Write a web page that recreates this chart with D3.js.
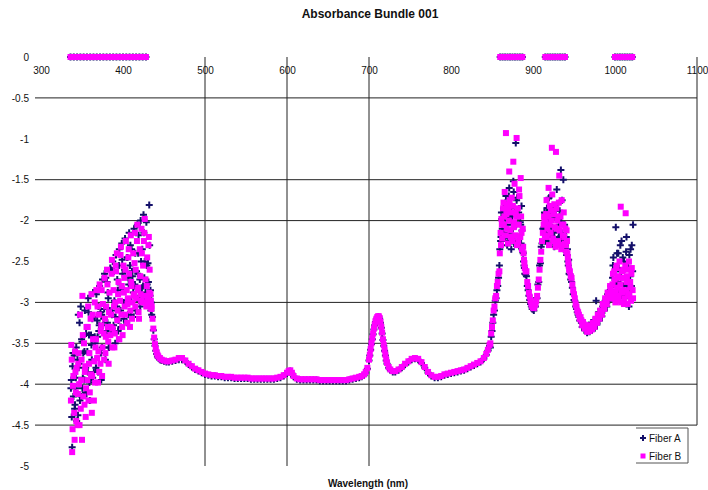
<!DOCTYPE html>
<html lang="en">
<head>
    <meta charset="UTF-8">
    <title>Absorbance Bundle 001</title>
    <script src="https://d3js.org/d3.v7.min.js"></script>
    <style>
        body { margin: 0; background: #fff; }
        text { font-family: "Liberation Sans", Arial, sans-serif; fill: #111; }
        .grid line { stroke: #222; stroke-width: 1; }
        .tick text { font-size: 10px; }
    </style>
</head>
<body>
    <div id="chart"></div>
    <script>
        // axis ticks
        var xTicks = [300, 400, 500, 600, 700, 800, 900, 1000, 1100];
        var yTicks = [0, -0.5, -1, -1.5, -2, -2.5, -3, -3.5, -4, -4.5, -5];
        var gridX = [500, 600, 700];
        var gridY = [-0.5, -1.5, -2, -3, -3.5, -4, -4.5];

        // UV part, noisy (wavelength in nm), first sweep
        var wlUV = [
            336, 337, 338, 339, 340, 341, 342, 343, 344, 345,
            346, 347, 348, 349, 350, 351, 352, 353, 354, 355,
            356, 357, 358, 359, 360, 361, 362, 363, 364, 365,
            366, 367, 368, 369, 370, 371, 372, 373, 374, 375,
            376, 377, 378, 379, 380, 381, 382, 383, 384, 385,
            386, 387, 388, 389, 390, 391, 392, 393, 394, 395,
            396, 397, 398, 399, 400, 401, 402, 403, 404, 405,
            406, 407, 408, 409, 410, 411, 412, 413, 414, 415,
            416, 417, 418, 419, 420, 421, 422, 423, 424, 425,
            426, 427, 428, 429, 430, 431, 432, 433, 434, 435
        ];
        var fiberA_UV = [
            0, -3.95, -4.77, -3.62, 0, -4.30, -4.05, -3.55, 0, -4.38,
            -3.80, -3.25, 0, -4.15, -3.48, -3.92, 0, -3.60, -4.10, -3.38,
            0, -3.85, -3.12, -3.98, 0, -3.40, -3.70, -3.92, 0, -3.18,
            -3.50, -3.80, 0, -3.42, -3.05, -3.28, 0, -3.62, -3.15, -2.72,
            0, -3.08, -3.38, -2.70, 0, -3.25, -2.95, -3.55, 0, -2.60,
            -3.10, -3.32, 0, -2.62, -3.00, -3.18, 0, -2.72, -3.35, -2.55,
            0, -3.10, -2.82, -2.48, 0, -3.20, -2.60, -3.00, 0, -2.45,
            -3.15, -2.78, 0, -2.30, -2.98, -2.62, 0, -3.18, -2.80, -2.40,
            0, -2.95, -2.65, -2.18, 0, -3.05, -2.50, -2.82, 0, -1.93,
            -2.70, -2.95, 0, -2.55, -3.00, -2.75, -1.81, -2.92, -3.10, -3.15
        ];
        var fiberB_UV = [
            0, -3.52, -4.83, -4.02, 0, -4.68, -3.85, -4.45, 0, -4.12,
            -3.62, -4.50, 0, -3.95, -4.68, -3.40, 0, -4.25, -3.78, -4.05,
            0, -3.30, -4.20, -3.62, 0, -3.88, -4.35, -3.15, 0, -3.72,
            -3.98, -3.45, 0, -3.05, -3.60, -3.85, 0, -3.35, -2.85, -3.55,
            0, -3.70, -3.20, -3.42, 0, -2.78, -3.48, -3.12, 0, -3.30,
            -2.65, -3.55, 0, -3.05, -3.38, -2.55, 0, -3.22, -2.90, -3.45,
            0, -2.42, -3.15, -3.30, 0, -2.88, -3.05, -2.60, 0, -3.25,
            -2.95, -2.35, 0, -3.10, -2.75, -3.20, 0, -2.90, -2.52, -3.05,
            0, -2.25, -2.85, -3.12, 0, -2.68, -2.98, -2.40, 0, -2.92,
            -2.15, -3.00, 0, -2.80, -2.95, -2.30, -2.88, -3.02, -2.98, -3.05
        ];

        // UV part, second sweep (half nm)
        var wlUV2 = [
            336.5, 337.5, 338.5, 339.5, 340.5, 341.5, 342.5, 343.5, 344.5, 345.5,
            346.5, 347.5, 348.5, 349.5, 350.5, 351.5, 352.5, 353.5, 354.5, 355.5,
            356.5, 357.5, 358.5, 359.5, 360.5, 361.5, 362.5, 363.5, 364.5, 365.5,
            366.5, 367.5, 368.5, 369.5, 370.5, 371.5, 372.5, 373.5, 374.5, 375.5,
            376.5, 377.5, 378.5, 379.5, 380.5, 381.5, 382.5, 383.5, 384.5, 385.5,
            386.5, 387.5, 388.5, 389.5, 390.5, 391.5, 392.5, 393.5, 394.5, 395.5,
            396.5, 397.5, 398.5, 399.5, 400.5, 401.5, 402.5, 403.5, 404.5, 405.5,
            406.5, 407.5, 408.5, 409.5, 410.5, 411.5, 412.5, 413.5, 414.5, 415.5,
            416.5, 417.5, 418.5, 419.5, 420.5, 421.5, 422.5, 423.5, 424.5, 425.5,
            426.5, 427.5, 428.5, 429.5, 430.5, 431.5, 432.5, 433.5, 434.5
        ];
        var fiberA_UV2 = [
            -4.05, -4.40, -3.78, -4.15, -3.65, -4.25, -3.92, -4.45, -3.70, -3.15,
            -3.75, -4.20, -3.05, -3.45, -4.05, -3.62, -3.95, -3.10, -3.80, -4.12,
            -3.60, -2.95, -3.40, -4.20, -3.95, -3.52, -3.20, -2.88, -3.85, -3.42,
            -3.70, -2.90, -3.22, -3.85, -3.35, -2.80, -3.12, -3.95, -3.55, -3.28,
            -3.20, -2.65, -3.70, -3.35, -2.75, -2.88, -3.55, -3.10, -2.58, -3.38,
            -3.15, -2.50, -3.28, -2.98, -3.50, -2.42, -3.05, -2.85, -3.22, -2.35,
            -2.78, -3.30, -2.28, -2.65, -3.00, -2.85, -2.22, -2.98, -3.25, -2.45,
            -2.70, -2.15, -2.55, -3.15, -2.35, -2.68, -2.88, -2.10, -2.78, -3.10,
            -2.62, -2.05, -2.40, -2.98, -2.72, -2.00, -2.90, -2.35, -2.80, -2.15,
            -2.50, -2.88, -2.02, -2.78, -2.52, -2.95, -2.30, -2.85, -3.00
        ];
        var fiberB_UV2 = [
            -4.20, -3.70, -4.55, -3.90, -4.35, -3.60, -4.10, -3.80, -4.50, -3.75,
            -4.00, -3.15, -4.30, -3.70, -2.92, -4.15, -3.50, -3.85, -4.40, -3.30,
            -3.95, -3.05, -3.75, -4.10, -3.20, -2.90, -3.90, -3.45, -4.20, -3.00,
            -3.55, -2.85, -3.68, -3.98, -3.15, -2.78, -3.75, -3.28, -3.90, -3.02,
            -3.38, -2.70, -3.62, -3.05, -2.60, -3.30, -3.75, -2.88, -3.40, -3.15,
            -2.48, -3.32, -2.85, -3.55, -3.00, -2.62, -2.40, -3.10, -2.75, -3.45,
            -2.98, -2.32, -2.80, -3.40, -2.55, -2.70, -3.15, -2.25, -2.85, -3.02,
            -2.45, -2.65, -3.30, -2.18, -2.80, -3.00, -2.40, -2.92, -2.15, -2.60,
            -2.95, -2.05, -2.82, -3.20, -2.35, -2.90, -2.10, -3.00, -2.55, -2.25,
            -1.98, -2.72, -3.05, -2.45, -2.92, -2.20, -2.60, -2.90, -3.08
        ];

        // visible baseline
        var wlVis = [
            436, 437, 438, 439, 440, 441, 442, 443, 445, 447,
            450, 453, 456, 460, 464, 468, 472, 476, 480, 484,
            488, 492, 496, 500, 504, 508, 512, 516, 520, 524,
            528, 532, 536, 540, 544, 548, 552, 556, 560, 564,
            568, 572, 576, 580, 584, 588, 592, 596, 600, 602,
            604, 606, 608, 612, 616, 620, 624, 628, 632, 636,
            640, 644, 648, 652, 656, 660, 664, 668, 672, 676,
            680, 684, 688, 691, 694, 696, 698, 700, 701, 702,
            703, 704, 705, 706, 707, 708, 709, 710, 711, 712,
            713, 714, 715, 716, 717, 718, 719, 720, 721, 722,
            724, 726, 729, 732, 736, 740, 744, 748, 752, 756,
            760, 764, 768, 772, 776, 780, 784, 788, 792, 796,
            800, 804, 808, 812, 816, 820, 824, 828, 832, 836,
            840, 843, 845, 847
        ];
        var fiberA_Vis = [
            -3.18, -3.34, -3.45, -3.53, -3.59, -3.63, -3.66, -3.68, -3.70, -3.71,
            -3.72, -3.73, -3.73, -3.72, -3.71, -3.70, -3.70, -3.72, -3.76, -3.79,
            -3.82, -3.84, -3.86, -3.88, -3.89, -3.90, -3.90, -3.91, -3.91, -3.92,
            -3.92, -3.92, -3.93, -3.93, -3.93, -3.93, -3.93, -3.94, -3.94, -3.94,
            -3.94, -3.94, -3.94, -3.94, -3.94, -3.93, -3.92, -3.90, -3.87, -3.85,
            -3.84, -3.87, -3.91, -3.94, -3.95, -3.95, -3.95, -3.95, -3.95, -3.95,
            -3.96, -3.96, -3.96, -3.96, -3.96, -3.96, -3.96, -3.96, -3.96, -3.95,
            -3.94, -3.93, -3.92, -3.91, -3.89, -3.86, -3.81, -3.71, -3.65, -3.58,
            -3.51, -3.45, -3.39, -3.33, -3.28, -3.24, -3.21, -3.19, -3.18, -3.18,
            -3.20, -3.25, -3.31, -3.38, -3.46, -3.53, -3.59, -3.65, -3.71, -3.75,
            -3.80, -3.83, -3.85, -3.85, -3.83, -3.80, -3.76, -3.73, -3.70, -3.69,
            -3.70, -3.74, -3.80, -3.86, -3.90, -3.92, -3.92, -3.91, -3.89, -3.88,
            -3.87, -3.86, -3.85, -3.84, -3.83, -3.81, -3.79, -3.77, -3.75, -3.73,
            -3.69, -3.64, -3.59, -3.53
        ];
        var fiberB_Vis = [
            -3.20, -3.32, -3.43, -3.51, -3.57, -3.61, -3.64, -3.66, -3.68, -3.70,
            -3.71, -3.72, -3.72, -3.71, -3.70, -3.68, -3.68, -3.71, -3.75, -3.78,
            -3.81, -3.83, -3.85, -3.87, -3.88, -3.89, -3.89, -3.90, -3.90, -3.91,
            -3.91, -3.91, -3.92, -3.92, -3.92, -3.92, -3.92, -3.93, -3.93, -3.93,
            -3.93, -3.93, -3.93, -3.93, -3.93, -3.92, -3.91, -3.89, -3.86, -3.84,
            -3.83, -3.86, -3.90, -3.93, -3.94, -3.94, -3.94, -3.94, -3.94, -3.94,
            -3.95, -3.95, -3.95, -3.95, -3.95, -3.95, -3.95, -3.95, -3.95, -3.94,
            -3.93, -3.92, -3.91, -3.90, -3.88, -3.85, -3.80, -3.70, -3.64, -3.57,
            -3.50, -3.44, -3.38, -3.32, -3.27, -3.23, -3.20, -3.18, -3.17, -3.17,
            -3.19, -3.24, -3.30, -3.37, -3.45, -3.52, -3.58, -3.64, -3.70, -3.74,
            -3.79, -3.82, -3.84, -3.84, -3.82, -3.79, -3.75, -3.72, -3.69, -3.68,
            -3.69, -3.73, -3.79, -3.85, -3.89, -3.91, -3.91, -3.90, -3.88, -3.87,
            -3.86, -3.85, -3.84, -3.83, -3.82, -3.80, -3.78, -3.76, -3.74, -3.72,
            -3.68, -3.63, -3.58, -3.52
        ];

        // near IR, noisy peaks, first sweep
        var wlNIR = [
            848, 850, 852, 854, 856, 858,
            859, 860, 861, 862, 863, 864, 865, 866, 867, 868,
            869, 870, 871, 872, 873, 874, 875, 876, 877, 878,
            879, 880, 881, 882, 883, 884, 885, 886, 887, 888,
            889, 890,
            892, 894, 896, 898, 900, 902, 904, 906, 908, 910, 912,
            913, 914, 915, 916, 917, 918, 919, 920, 921, 922,
            923, 924, 925, 926, 927, 928, 929, 930, 931, 932,
            933, 934, 935, 936, 937, 938, 939, 940, 941, 942,
            943, 944,
            947, 950, 953, 956, 959, 962, 965, 968, 971, 974, 977, 980, 983, 986, 989, 992, 995,
            997, 998, 999, 1000, 1001, 1002, 1003, 1004, 1005, 1006,
            1007, 1008, 1009, 1010, 1011, 1012, 1013, 1014, 1015, 1016,
            1017, 1018, 1019, 1020, 1021, 1022
        ];
        var fiberA_NIR = [
            -3.55, -3.35, -3.15, -2.98, -2.85, -2.70,
            -2.55, 0, -2.20, -1.98, 0, -1.85, -2.15, 0, -1.70, -1.95,
            0, -2.25, -1.60, 0, -1.90, -2.05, 0, -1.52, -2.28, 0,
            -1.05, -1.75, 0, -1.95, -2.30, 0, -2.05, -1.82, 0, -2.40,
            -2.55, -2.65,
            -2.68, -2.85, -2.97, -3.05, -3.08, -3.02, -2.95, -2.78, -2.55, -2.32, -2.10,
            -2.10, -1.90, 0, -2.15, -1.85, 0, -2.28, -1.98, 0, -1.70,
            -2.18, 0, -1.95, -2.32, 0, -1.88, -1.62, 0, -2.22, -2.05,
            0, -1.38, -2.15, 0, -1.50, -2.30, 0, -2.20, -2.42, -2.35,
            -2.55, -2.65,
            -2.75, -2.97, -3.08, -3.18, -3.25, -3.28, -3.30, -3.28, -3.25, -3.22, -2.98, -3.12, -3.08, -3.00, -2.95, -2.88, -2.80,
            -2.70, -2.45, -2.90, 0, -2.08, -2.78, 0, -2.40, -2.95, 0,
            -2.62, -2.25, 0, -2.88, -2.50, 0, -2.72, -2.20, 0, -2.58,
            -3.05, 0, -2.35, -2.80, 0, -2.05
        ];
        var fiberB_NIR = [
            -3.50, -3.30, -3.10, -2.95, -2.80, -2.65,
            -2.62, 0, -2.30, -2.05, 0, -1.78, -1.95, 0, -0.93, -2.10,
            0, -1.85, -1.40, 0, -2.20, -1.72, 0, -1.28, -2.02, 0,
            -1.90, -0.99, 0, -2.25, -1.62, 0, -1.48, -2.15, 0, -2.32,
            -2.48, -2.58,
            -2.62, -2.80, -2.93, -3.02, -3.06, -3.04, -2.98, -2.82, -2.60, -2.38, -2.15,
            -2.05, -1.98, 0, -1.92, -2.20, 0, -1.60, -2.05, 0, -1.88,
            -1.11, 0, -2.25, -1.80, 0, -1.16, -2.10, 0, -1.95, -1.45,
            0, -2.30, -1.75, 0, -2.05, -2.20, 0, -2.30, -2.12, -2.40,
            -2.50, -2.60,
            -2.70, -2.90, -3.05, -3.15, -3.22, -3.27, -3.30, -3.32, -3.30, -3.26, -3.22, -3.18, -3.12, -3.05, -3.00, -2.92, -2.85,
            -2.78, -2.95, -2.62, 0, -2.88, -2.55, 0, -2.98, -2.70, 0,
            -1.83, -2.85, 0, -2.60, -3.02, 0, -1.91, -2.75, 0, -2.92,
            -2.50, 0, -2.82, -2.65, 0, -2.95
        ];

        // near IR, second sweep
        var wlNIR2 = [
            849, 851, 853, 855, 857, 859.5, 860.5, 861.5, 862.5, 863.5,
            864.5, 865.5, 866.5, 867.5, 868.5, 869.5, 870.5, 871.5, 872.5, 873.5,
            874.5, 875.5, 876.5, 877.5, 878.5, 879.5, 880.5, 881.5, 882.5, 883.5,
            884.5, 885.5, 886.5, 887.5, 888.5, 889.5, 891, 893, 895, 897,
            899, 901, 903, 905, 907, 909, 911, 913.5, 914.5, 915.5,
            916.5, 917.5, 918.5, 919.5, 920.5, 921.5, 922.5, 923.5, 924.5, 925.5,
            926.5, 927.5, 928.5, 929.5, 930.5, 931.5, 932.5, 933.5, 934.5, 935.5,
            936.5, 937.5, 938.5, 939.5, 940.5, 941.5, 942.5, 943.5, 945, 946,
            948, 949, 951, 952, 954, 955, 957, 958, 960, 961,
            963, 964, 966, 967, 969, 970, 972, 973, 975, 976,
            978, 979, 981, 982, 984, 985, 987, 988, 990, 991,
            993, 994, 996, 997.5, 998.5, 999.5, 1000.5, 1001.5, 1002.5, 1003.5,
            1004.5, 1005.5, 1006.5, 1007.5, 1008.5, 1009.5, 1010.5, 1011.5, 1012.5, 1013.5,
            1014.5, 1015.5, 1016.5, 1017.5, 1018.5, 1019.5, 1020.5, 1021.5
        ];
        var fiberA_NIR2 = [
            -3.42, -3.25, -3.10, -2.95, -2.80, -2.35, -2.25, -1.90, -2.10, -2.00,
            -1.88, -2.22, -1.78, -2.05, -2.30, -1.95, -1.70, -2.15, -1.85, -2.35,
            -1.95, -2.10, -1.65, -2.25, -1.88, -2.05, -1.72, -2.20, -1.90, -2.32,
            -2.02, -2.28, -2.12, -2.38, -2.50, -2.58, -2.66, -2.80, -2.92, -3.02,
            -3.08, -3.10, -3.05, -2.95, -2.75, -2.52, -2.28, -2.08, -1.92, -2.25,
            -2.00, -1.85, -2.20, -1.72, -2.05, -1.90, -2.28, -2.10, -1.82, -2.15,
            -1.95, -2.10, -2.30, -1.80, -1.98, -2.20, -1.88, -2.25, -2.02, -1.75,
            -2.22, -2.35, -2.05, -2.30, -2.20, -2.42, -2.50, -2.48, -2.66, -2.72,
            -2.82, -2.90, -2.98, -3.05, -3.12, -3.15, -3.22, -3.20, -3.30, -3.26,
            -3.34, -3.30, -3.37, -3.32, -3.36, -3.30, -3.34, -3.27, -3.32, -3.22,
            -3.27, -3.18, -3.22, -3.12, -3.17, -3.05, -3.10, -2.98, -3.05, -2.90,
            -2.98, -2.85, -2.90, -2.55, -2.78, -2.95, -2.62, -2.85, -2.40, -2.75,
            -2.58, -2.88, -2.30, -2.70, -2.92, -2.45, -2.80, -2.60, -2.95, -2.38,
            -2.78, -2.52, -2.90, -2.42, -2.68, -2.85, -2.30, -2.62
        ];
        var fiberB_NIR2 = [
            -3.38, -3.22, -3.05, -2.92, -2.75, -2.40, -2.15, -1.98, -2.22, -1.85,
            -2.05, -1.65, -2.18, -1.92, -1.80, -2.28, -2.00, -1.75, -2.12, -1.90,
            -2.25, -1.82, -2.08, -1.55, -2.18, -1.95, -2.30, -1.85, -2.05, -1.70,
            -2.20, -1.95, -2.35, -2.10, -2.40, -2.52, -2.62, -2.75, -2.88, -2.98,
            -3.05, -3.07, -3.02, -2.92, -2.72, -2.48, -2.25, -1.95, -2.18, -2.02,
            -1.75, -2.10, -1.95, -2.30, -1.82, -2.15, -2.00, -1.68, -2.22, -1.92,
            -2.08, -2.32, -1.85, -2.00, -2.25, -1.78, -2.12, -1.95, -2.35, -2.05,
            -2.18, -1.90, -2.28, -2.10, -2.38, -2.25, -2.45, -2.55, -2.62, -2.68,
            -2.78, -2.85, -2.95, -3.02, -3.10, -3.12, -3.20, -3.18, -3.28, -3.24,
            -3.32, -3.28, -3.36, -3.30, -3.35, -3.28, -3.33, -3.25, -3.30, -3.20,
            -3.25, -3.15, -3.20, -3.10, -3.15, -3.02, -3.08, -2.95, -3.02, -2.88,
            -2.95, -2.80, -2.88, -2.65, -2.90, -2.72, -3.00, -2.58, -2.82, -2.68,
            -2.92, -2.50, -2.78, -3.00, -2.62, -2.88, -2.70, -2.95, -2.55, -2.85,
            -2.68, -3.02, -2.60, -2.90, -2.75, -2.98, -2.58, -2.85
        ];

        var wavelengths = wlUV.concat(wlUV2, wlVis, wlNIR, wlNIR2);
        var fiberA = fiberA_UV.concat(fiberA_UV2, fiberA_Vis, fiberA_NIR, fiberA_NIR2);
        var fiberB = fiberB_UV.concat(fiberB_UV2, fiberB_Vis, fiberB_NIR, fiberB_NIR2);

        var dataA = wavelengths.map((w, i) => ({ wl: w, v: fiberA[i] }));
        var dataB = wavelengths.map((w, i) => ({ wl: w, v: fiberB[i] }));

        var width = 708, height = 490;
        var plotLeft = 41, plotRight = 697, plotTop = 57, plotBottom = 466;

        var svg = d3.select("#chart").append("svg")
            .attr("width", width)
            .attr("height", height);

        var x = d3.scaleLinear().domain([300, 1100]).range([plotLeft, plotRight]);
        var y = d3.scaleLinear().domain([0, -5]).range([plotTop, plotBottom]);

        svg.append("text")
            .attr("x", 370).attr("y", 18)
            .attr("text-anchor", "middle")
            .style("font-size", "12px").style("font-weight", "bold")
            .text("Absorbance Bundle 001");

        // grid
        var grid = svg.append("g").attr("class", "grid");
        grid.selectAll(".gy").data(gridY).enter().append("line")
            .attr("x1", 35).attr("x2", plotRight)
            .attr("y1", d => y(d)).attr("y2", d => y(d));
        grid.selectAll(".gx").data(gridX).enter().append("line")
            .attr("x1", d => x(d)).attr("x2", d => x(d))
            .attr("y1", y(0)).attr("y2", y(-5));
        grid.append("line")
            .attr("x1", x(1100)).attr("x2", x(1100))
            .attr("y1", y(0)).attr("y2", y(-4.5));

        // axes (labels only)
        var xAxis = svg.append("g")
            .attr("transform", `translate(0,${y(0)})`)
            .call(d3.axisBottom(x).tickValues(xTicks).tickSize(0).tickPadding(10)
                .tickFormat(d => String(d)));
        xAxis.select(".domain").remove();

        var yAxis = svg.append("g")
            .attr("transform", "translate(35,0)")
            .call(d3.axisLeft(y).tickValues(yTicks).tickSize(0).tickPadding(6)
                .tickFormat(d => String(d)));
        yAxis.select(".domain").remove();

        // Fiber A, navy plus markers
        svg.append("g").selectAll("path").data(dataA).enter().append("path")
            .attr("transform", d => `translate(${x(d.wl)},${y(d.v)})`)
            .attr("d", "M-3.5,0H3.5M0,-3.5V3.5")
            .attr("stroke", "#14106a")
            .attr("stroke-width", 2)
            .attr("fill", "none");

        // Fiber B, magenta squares
        svg.append("g").selectAll("rect").data(dataB).enter().append("rect")
            .attr("x", d => x(d.wl) - 3)
            .attr("y", d => y(d.v) - 3)
            .attr("width", 6).attr("height", 6)
            .attr("fill", "#ff00ff");

        // legend
        var lg = svg.append("g");
        lg.append("rect").attr("x", 632).attr("y", 428).attr("width", 56).attr("height", 35)
            .attr("fill", "#fff");
        lg.append("path").attr("d", "M636,428H688V463H636")
            .attr("fill", "none").attr("stroke", "#555");
        lg.append("path").attr("d", "M640,438H646M643,435V441")
            .attr("stroke", "#14106a").attr("stroke-width", 2);
        lg.append("rect").attr("x", 640.5).attr("y", 453.5).attr("width", 5).attr("height", 5)
            .attr("fill", "#ff00ff");
        lg.append("text").attr("x", 649).attr("y", 442).style("font-size", "10px").text("Fiber A");
        lg.append("text").attr("x", 649).attr("y", 460).style("font-size", "10px").text("Fiber B");

        svg.append("text")
            .attr("x", 368).attr("y", 487)
            .attr("text-anchor", "middle")
            .style("font-size", "10px").style("font-weight", "bold")
            .text("Wavelength (nm)");
    </script>
</body>
</html>
